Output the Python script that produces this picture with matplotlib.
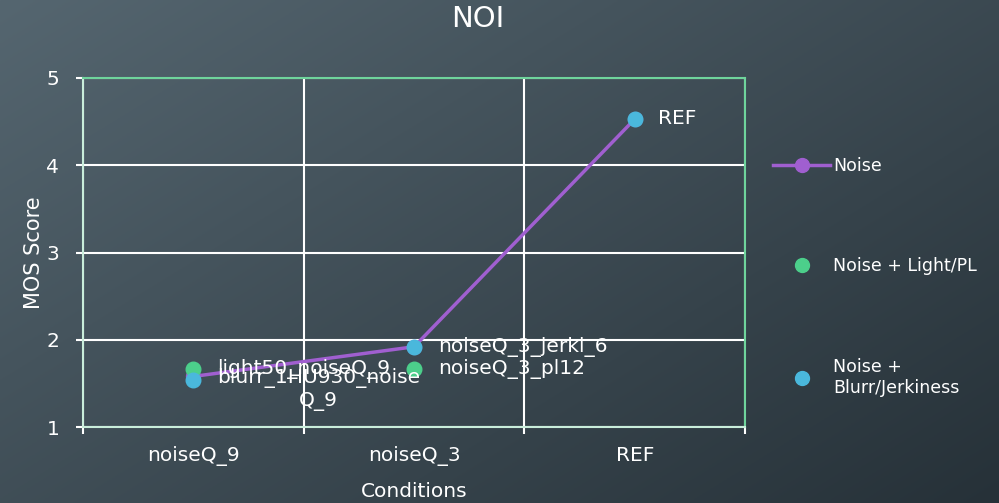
import numpy as np
import matplotlib
matplotlib.use('Agg')
import matplotlib.pyplot as plt
from matplotlib.lines import Line2D

plt.rcParams['font.family'] = ['DejaVu Sans']

# data
categories = ['noiseQ_9', 'noiseQ_3', 'REF']
noise_vals = [1.58, 1.92, 4.53]

light_x = ['noiseQ_9', 'noiseQ_3']
light_vals = [1.66, 1.66]
light_labels = ['light50_noiseQ_9', 'noiseQ_3_pl12']

blur_x = ['noiseQ_9', 'noiseQ_3', 'REF']
blur_vals = [1.54, 1.92, 4.53]
blur_labels = ['blurr_1HU930_noise\nQ_9', 'noiseQ_3_jerki_6', 'REF']

purple = '#a05fd0'
green = '#4ccf8b'
blue = '#4ab8dc'
txt = 'white'

fig = plt.figure(figsize=(9.99, 5.03), dpi=100)

# gradient background
bg = fig.add_axes([0, 0, 1, 1], zorder=-10)
yy, xx = np.mgrid[0:1:200j, 0:1:400j]
t = 0.55 * xx + 0.45 * yy
c0 = np.array([0x55, 0x66, 0x70]) / 255
c1 = np.array([0x26, 0x31, 0x38]) / 255
img = c0[None, None, :] * (1 - t[..., None]) + c1[None, None, :] * t[..., None]
bg.imshow(img, aspect='auto', extent=[0, 1, 0, 1], origin='upper')
bg.axis('off')

ax = fig.add_axes([0.083, 0.151, 0.663, 0.694])
ax.patch.set_alpha(0)

pos = {c: i + 0.5 for i, c in enumerate(categories)}

ax.plot([pos[c] for c in categories], noise_vals, color=purple, lw=2.5,
        marker='o', ms=10, zorder=3)
ax.scatter([pos[c] for c in light_x], light_vals, s=110, color=green, zorder=4)
ax.scatter([pos[c] for c in blur_x], blur_vals, s=110, color=blue, zorder=5)

for c, v, lab in zip(light_x, light_vals, light_labels):
    ax.annotate(lab, (pos[c], v), xytext=(17, 0), textcoords='offset points',
                va='center', ha='left', color=txt, fontsize=14.5, zorder=6)
for c, v, lab in zip(blur_x, blur_vals, blur_labels):
    va = 'top' if '\n' in lab else 'center'
    off = (17, 8.5) if '\n' in lab else (17, 0)
    ax.annotate(lab, (pos[c], v), xytext=off, textcoords='offset points',
                va=va, ha='left', color=txt, fontsize=14.5, zorder=6,
                multialignment='center', linespacing=1.2)

ax.set_xlim(0, 3)
ax.set_ylim(1, 5)
ax.set_yticks([1, 2, 3, 4, 5])
ax.set_xticks([0, 1, 2, 3])
ax.set_xticklabels([])
ax.set_xticks([pos[c] for c in categories], minor=True)
ax.set_xticklabels(categories, minor=True)
ax.tick_params(axis='x', which='major', length=5, color='white', width=1.5)
ax.tick_params(axis='x', which='minor', length=0, labelcolor=txt, labelsize=14.5, pad=14)
ax.tick_params(axis='y', length=5, color='white', width=1.5, labelcolor=txt,
               labelsize=14.5, pad=12)
ax.grid(True, color='white', lw=1.5)

for s in ['top', 'right']:
    ax.spines[s].set_color('#6fd49c')
for s in ['left', 'bottom']:
    ax.spines[s].set_color('#c9eedb')
for s in ax.spines.values():
    s.set_linewidth(1.5)

ax.set_xlabel('Conditions', color=txt, fontsize=14.5, labelpad=11)
ax.set_ylabel('MOS Score', color=txt, fontsize=15, labelpad=2)
fig.suptitle('NOI', color=txt, fontsize=21, x=0.478, y=0.99)

handles = [
    Line2D([], [], color=purple, lw=2.5, marker='o', ms=10),
    Line2D([], [], color=green, lw=0, marker='o', ms=10),
    Line2D([], [], color=blue, lw=0, marker='o', ms=10),
]
labels = ['Noise', 'Noise + Light/PL', 'Noise +\nBlurr/Jerkiness']
leg = fig.legend(handles, labels, loc='upper left', bbox_to_anchor=(0.767, 0.702),
                 frameon=False, fontsize=12.5, labelspacing=4.75,
                 handlelength=3.3, handletextpad=0.15, borderaxespad=0)
for tx in leg.get_texts():
    tx.set_color(txt)

fig.savefig('out.png', dpi=100)
